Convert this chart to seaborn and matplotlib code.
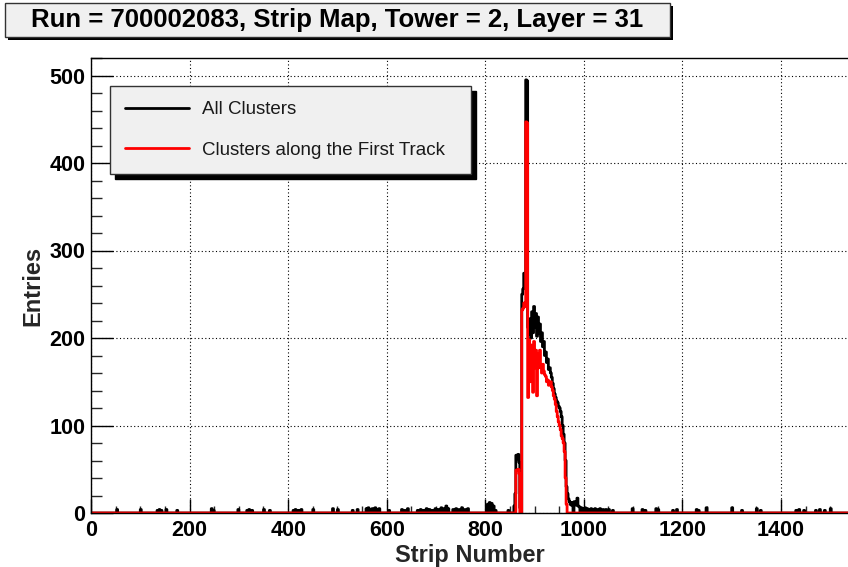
import numpy as np
import pandas as pd
import matplotlib
matplotlib.use('Agg')
import matplotlib.pyplot as plt
import seaborn as sns
from matplotlib.lines import Line2D
from matplotlib.patches import Rectangle
from matplotlib.ticker import MultipleLocator

# ---- data ----
n_strips = 1536
bin_width = 2

# peak region, one value per 2-strip bin, starting at strip 856
peak_start = 856
peak_all = [0, 8, 22, 66, 62, 67, 58, 6, 0, 250,
            256, 274, 266, 495, 494, 212, 204, 222, 200, 230,
            206, 236, 212, 228, 202, 224, 206, 216, 196, 206,
            190, 196, 180, 184, 172, 176, 164, 166, 160, 155,
            148, 142, 136, 132, 128, 126, 122, 120, 116, 110,
            100, 90, 80, 60, 30, 22, 16, 13, 10, 9,
            12]
peak_track = [0, 0, 0, 49, 49, 50, 45, 0, 0, 232,
              234, 240, 236, 447, 446, 132, 198, 150, 192, 172,
              138, 196, 166, 186, 134, 182, 166, 186, 168, 160,
              170, 162, 158, 156, 150, 152, 146, 148, 150, 144,
              140, 134, 130, 124, 116, 110, 104, 100, 95, 88,
              85, 80, 70, 40, 10, 0, 0, 0, 0, 0,
              0]

# scattered single hits outside the peak (all clusters only)
noise_strips = [52, 100, 134, 138, 142, 152, 174, 244, 248, 298,
                316, 320, 326, 350, 362, 410, 414, 420, 426, 450,
                490, 500, 530, 540, 558, 562, 566, 570, 576, 580,
                584, 604, 630, 636, 642, 662, 668, 674, 680, 686,
                692, 698, 704, 710, 716, 720, 724, 734, 740, 746,
                752, 758, 764, 804, 808, 812, 816, 820, 846, 980,
                982, 984, 986, 988, 990, 994, 998, 1002, 1006, 1010,
                1014, 1018, 1022, 1026, 1032, 1038, 1044, 1050, 1058, 1098,
                1118, 1124, 1146, 1150, 1180, 1188, 1228, 1232, 1248, 1300,
                1320, 1350, 1358, 1430, 1436, 1446, 1470, 1478, 1488, 1500]
noise_all = [4, 4, 3, 4, 3, 4, 3, 5, 3, 4,
             3, 4, 3, 4, 3, 3, 4, 3, 4, 4,
             5, 4, 3, 4, 5, 6, 4, 5, 6, 4,
             5, 3, 4, 3, 5, 3, 4, 3, 5, 4,
             3, 5, 4, 6, 5, 8, 5, 4, 5, 4,
             6, 4, 5, 10, 12, 11, 8, 3, 3, 13,
             10, 9, 17, 8, 7, 6, 5, 6, 5, 4,
             5, 4, 5, 4, 5, 4, 4, 4, 3, 5,
             4, 3, 5, 4, 3, 4, 4, 3, 6, 6,
             3, 5, 3, 3, 4, 3, 3, 4, 3, 5]

legend_labels = ['All Clusters', 'Clusters along the First Track']
title_text = 'Run = 700002083, Strip Map, Tower = 2, Layer = 31'

# ---- build histograms ----
edges = np.arange(0, n_strips + bin_width, bin_width)
centers = edges[:-1] + bin_width / 2
all_counts = np.zeros(len(centers))
track_counts = np.zeros(len(centers))
i0 = peak_start // bin_width
all_counts[i0:i0 + len(peak_all)] = peak_all
track_counts[i0:i0 + len(peak_track)] = peak_track
all_counts[np.array(noise_strips) // bin_width] = noise_all
df = pd.DataFrame({'strip': centers, 'all': all_counts, 'track': track_counts})

# ---- style ----
sns.set_style('ticks')
plt.rcParams['font.family'] = ['Liberation Sans', 'DejaVu Sans']

fig = plt.figure(figsize=(8.48, 5.67), dpi=100)
ax = fig.add_axes([91 / 848, 54 / 567, 757 / 848, 455 / 567])

sns.histplot(data=df, x='strip', weights='all', binwidth=bin_width,
             binrange=(0, n_strips), element='step',
             fill=False, color='black', linewidth=2.0, ax=ax)
sns.histplot(data=df, x='strip', weights='track', binwidth=bin_width,
             binrange=(0, n_strips), element='step',
             fill=False, color='#ff0000', linewidth=2.0, ax=ax)

ax.set_xlim(0, n_strips)
ax.set_ylim(0, 520)
ax.xaxis.set_major_locator(MultipleLocator(200))
ax.xaxis.set_minor_locator(MultipleLocator(50))
ax.yaxis.set_major_locator(MultipleLocator(100))
ax.yaxis.set_minor_locator(MultipleLocator(20))
ax.grid(True, which='major', color='black', linestyle=(0, (1, 2.2)), linewidth=0.8)
ax.set_axisbelow(True)

ax.tick_params(axis='x', which='major', direction='in', length=9.8, width=1,
               pad=5, labelsize=15.5, colors='black')
ax.tick_params(axis='x', which='minor', direction='in', length=4.9, width=1)
ax.tick_params(axis='y', which='major', direction='in', length=16, width=1,
               pad=4, labelsize=15.5, colors='black')
ax.tick_params(axis='y', which='minor', direction='in', length=8, width=1)
for lab in ax.get_xticklabels() + ax.get_yticklabels():
    lab.set_fontweight('bold')

ax.spines['right'].set_visible(False)
for s in ['left', 'bottom', 'top']:
    ax.spines[s].set_color('black')
    ax.spines[s].set_linewidth(1)

ax.set_xlabel('Strip Number', fontsize=17, fontweight='bold', labelpad=2)
ax.set_ylabel('Entries', fontsize=17, fontweight='bold', labelpad=4)

handles = [Line2D([], [], color='black', lw=2),
           Line2D([], [], color='#ff0000', lw=2)]
leg = ax.legend(handles, legend_labels, loc='upper left',
                bbox_to_anchor=(19 / 757, 427 / 455, 361 / 757, 0), mode='expand',
                borderaxespad=0, fontsize=13.5, borderpad=0.8, labelspacing=1.25,
                handlelength=3.4, handletextpad=0.72, fancybox=False,
                frameon=True, framealpha=1,
                shadow={'ox': 3.6, 'oy': -3.6, 'color': 'black', 'alpha': 1})
leg.get_frame().set_facecolor('#f0f0f0')
leg.get_frame().set_edgecolor('#333333')
leg.get_frame().set_linewidth(1)
for t in leg.get_texts():
    t.set_color('#1a1a1a')

# title box with shadow
fig.patches.append(Rectangle((8 / 848, (567 - 40) / 567), 665 / 848, 34 / 567,
                             transform=fig.transFigure, facecolor='black',
                             edgecolor='none', zorder=1))
fig.patches.append(Rectangle((5 / 848, (567 - 37) / 567), 665 / 848, 34 / 567,
                             transform=fig.transFigure, facecolor='#f0f0f0',
                             edgecolor='#333333', linewidth=1, zorder=2))
fig.text(337.5 / 848, (567 - 20) / 567, title_text, ha='center', va='center',
         fontsize=18.5, fontweight='bold', color='black', zorder=3)

fig.savefig('out.png', dpi=100)
